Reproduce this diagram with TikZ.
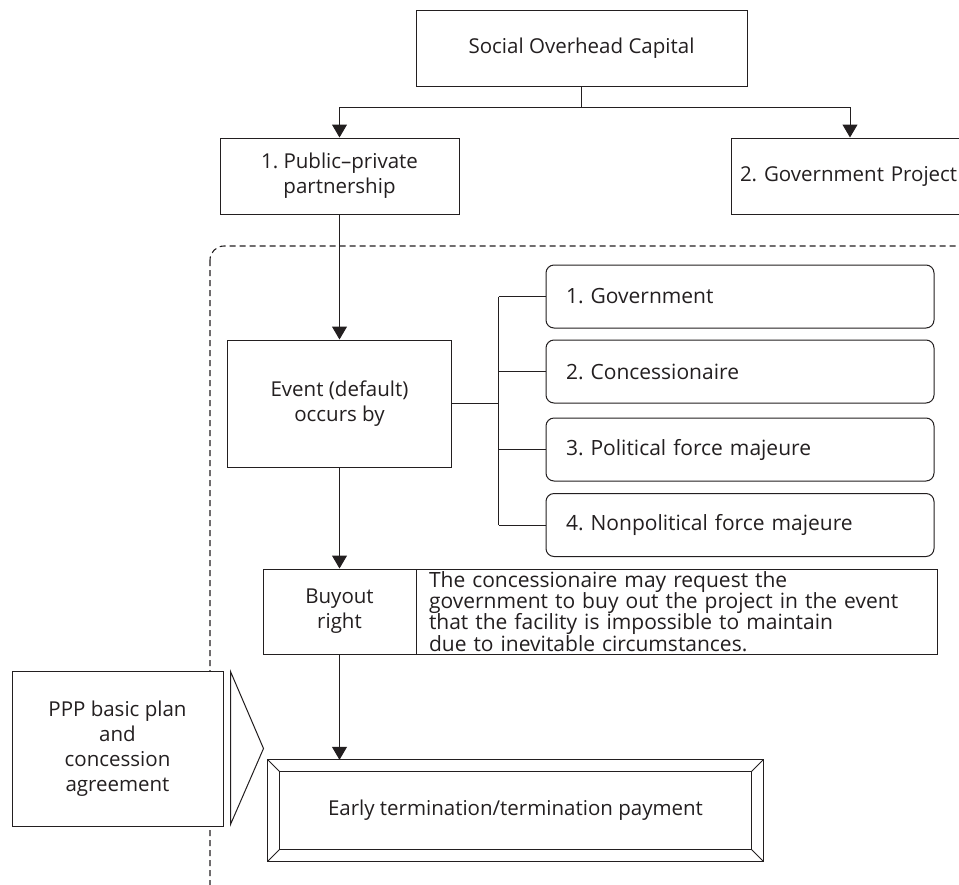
\documentclass[tikz,border=0pt]{standalone}
\usepackage{fontspec}
\setmainfont{Open Sans}
\usetikzlibrary{arrows.meta,calc}
\definecolor{ink}{HTML}{231F20}
\begin{document}
\begin{tikzpicture}[x=1pt,y=-1pt,
  every node/.style={font=\fontsize{20.5}{25}\selectfont, text=ink},
  box/.style={draw=ink, line width=1pt, fill=white, rectangle, inner sep=0pt, align=center},
  rbox/.style={box, rounded corners=8pt, minimum width=388, minimum height=63, align=left, text width=348, inner xsep=20, font=\fontsize{21}{25}\selectfont},
  link/.style={draw=ink, line width=1pt},
  arr/.style={link, -{Triangle[length=13pt,width=15pt]}},
  region/.style={draw=ink, line width=1.1pt, dash pattern=on 6pt off 4pt, rounded corners=14pt},
]
\useasboundingbox (0,0) rectangle (959,884);
\begin{scope}
\clip (0,0) rectangle (959,884);

% dashed boundary of the PPP scope
\draw[region] (210,246) rectangle (1010,905);

% top level
\node[box, minimum width=331, minimum height=76] (soc) at (581.5,48) {Social Overhead Capital};
\node[box, minimum width=239, minimum height=76] (ppp) at (339.5,176) {1.\ Public--private\\partnership};
\node[box, minimum width=244, minimum height=76, align=left, text width=226, inner xsep=9, font=\fontsize{20.5}{25}\selectfont] (gov) at (853,176) {2.\ Government Project};

\draw[link] (soc.south) -- ++(0,21) coordinate (split);
\draw[arr] (split) -| (ppp.north);
\draw[arr] (split) -- (split -| 850,0) coordinate (split2) -- (split2 |- gov.north);

% default event and its causes
\node[box, minimum width=224, minimum height=127] (event) at (339.5,403.5) {Event (default)\\occurs by};
\draw[arr] (ppp.south) -- (event.north);

\node[rbox] (c1) at (740,296.5) {1.\ Government};
\node[rbox] (c2) at (740,371.5) {2.\ Concessionaire};
\node[rbox] (c3) at (740,449.5) {3.\ Political force majeure};
\node[rbox] (c4) at (740,525) {4.\ Nonpolitical force majeure};

\draw[link] (event.east) -- ++(46.5,0) coordinate (trunk);
\draw[link] (trunk |- c1.west) -- (trunk |- c4.west);
\foreach \c in {c1,c2,c3,c4} \draw[link] (trunk |- \c.west) -- (\c.west);

% buyout right
\node[box, minimum width=153, minimum height=85] (buy) at (339.5,611.5) {Buyout\\right};
\node[box, minimum width=521, minimum height=85, align=left, text width=495, inner xsep=13, font=\fontsize{21}{21.3}\selectfont] (desc) at (676.5,611.5)
  {The concessionaire may request the\\government to buy out the project in the event\\that the facility is impossible to maintain\\due to inevitable circumstances.};
\draw[arr] (event.south) -- (buy.north);

% early termination, beveled frame
\node[minimum width=495, minimum height=101, inner sep=0pt] (early) at (515.5,810.5) {Early termination/termination payment};
\coordinate (inw) at ($(early.north west)+(12,12)$);
\coordinate (ine) at ($(early.north east)+(-12,12)$);
\coordinate (isw) at ($(early.south west)+(12,-12)$);
\coordinate (ise) at ($(early.south east)+(-12,-12)$);
\draw[link] (early.north west) rectangle (early.south east);
\draw[link] (inw) rectangle (ise);
\draw[link] (early.north west) -- (inw) (early.north east) -- (ine)
            (early.south west) -- (isw) (early.south east) -- (ise);
\draw[arr] (buy.south) -- (buy.south |- early.north);

% basis document with callout pointer
\node[box, minimum width=211, minimum height=155] (plan) at (117.5,748.5) {PPP basic plan\\and\\concession\\agreement};
\draw[link, fill=white] ($(plan.north east)+(7,1)$) coordinate (pt1)
  -- ($(plan.east)+(40,0)$) coordinate (tip)
  -- ($(plan.south east)+(7,-2)$) coordinate (pt2) -- cycle;
\end{scope}
\end{tikzpicture}
\end{document}
